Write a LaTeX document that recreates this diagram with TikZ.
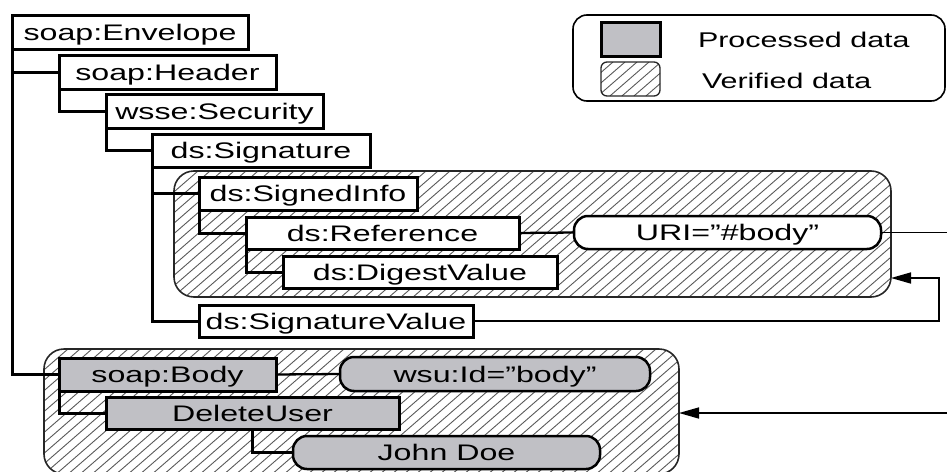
\documentclass[tikz,border=0pt]{standalone}
\usepackage{fontspec}
\setmainfont{Liberation Sans}[FakeStretch=1.43]
\usetikzlibrary{arrows.meta}
\definecolor{procgray}{RGB}{192,192,197}
\newcommand{\hatchfill}[4]{%
  \pgfmathsetmacro{\hh}{#4-#3}%
  \pgfmathtruncatemacro{\nn}{(#2-#1+1.15*\hh)/12+1}%
  \foreach \k in {0,...,\nn}{%
    \pgfmathsetmacro{\xa}{#1-1.15*\hh+12*\k}%
    \draw[hatchline] (\xa,#4) -- ++(1.15*\hh,-\hh);%
  }%
}
\begin{document}
\begin{tikzpicture}[x=1pt,y=-1pt,
  every node/.style={inner sep=0pt, outer sep=0pt, font=\fontsize{22.5}{26}\selectfont, text height=16pt, text depth=0pt},
  box/.style={draw, line width=3pt, fill=white},
  pbox/.style={draw, line width=3pt, fill=procgray},
  pill/.style={draw, line width=2.5pt, rounded corners=14pt},
  tree/.style={line width=3pt},
  link/.style={line width=2.3pt},
  thinline/.style={line width=1.6pt},
  hatchline/.style={line width=0.9pt, black!65},
  regionborder/.style={line width=1.6pt, black!85, rounded corners=20pt},
  tipstyle/.style={-{Triangle[length=20pt,width=11pt]}}
]
\useasboundingbox (0,0) rectangle (947,471);

% regions (verified data)
\node[minimum width=717pt, minimum height=126pt] (r1) at (532.5,234) {};
\node[minimum width=635pt, minimum height=125pt] (r2) at (361.5,411.5) {};
\begin{scope}
  \clip[rounded corners=20pt] (r1.north west) rectangle (r1.south east);
  \hatchfill{174}{891}{171}{297}
\end{scope}
\begin{scope}
  \clip[rounded corners=20pt] (r2.north west) rectangle (r2.south east);
  \hatchfill{44}{679}{349}{474}
\end{scope}
\draw[regionborder] (r1.north west) rectangle (r1.south east);
\draw[regionborder] (r2.north west) rectangle (r2.south east);

% legend
\node[draw, line width=1.6pt, rounded corners=14pt, minimum width=372pt, minimum height=86pt] (legend) at (759,58) {};
\node[pbox, minimum width=59pt, minimum height=34pt] (legp) at (630.5,39) {};
\node[minimum width=59pt, minimum height=34pt] (legv) at (630.5,79) {};
\begin{scope}
  \clip[rounded corners=6pt] (legv.north west) rectangle (legv.south east);
  \hatchfill{601}{660}{62}{96}
\end{scope}
\draw[line width=1.3pt, black!85, rounded corners=6pt] (legv.north west) rectangle (legv.south east);
\node[anchor=west, font=\fontsize{21.3}{25}\selectfont] (legpt) at (698,39) {Processed data};
\node[anchor=west, font=\fontsize{21.3}{25}\selectfont] (legvt) at (702,80) {Verified data};

% tree nodes
\node[box, minimum width=236pt, minimum height=34pt] (env) at (130,32) {soap:Envelope};
\node[box, minimum width=217pt, minimum height=34pt] (header) at (167.5,72) {soap:Header};
\node[box, minimum width=217pt, minimum height=34pt] (security) at (214.5,111) {wsse:Security};
\node[box, minimum width=218pt, minimum height=33pt] (signature) at (261,150.5) {ds:Signature};
\node[box, minimum width=218pt, minimum height=33pt] (signedinfo) at (308,193.5) {ds:SignedInfo};
\node[box, minimum width=273pt, minimum height=32pt] (reference) at (382.5,233) {ds:Reference};
\node[box, minimum width=274pt, minimum height=32pt] (digest) at (420,272) {ds:DigestValue};
\node[box, minimum width=274pt, minimum height=32pt] (sigvalue) at (336,321) {ds:SignatureValue};
\node[pill, fill=white, minimum width=307pt, minimum height=33pt] (uri) at (727.5,232.5) {URI=”\#body”};
\node[pbox, minimum width=217pt, minimum height=33pt] (body) at (167.5,374.5) {soap:Body};
\node[pill, fill=procgray, minimum width=310pt, minimum height=34pt] (wsu) at (495,374) {wsu:Id=”body”};
\node[pbox, minimum width=293pt, minimum height=32pt] (deluser) at (252.5,413) {DeleteUser};
\node[pill, fill=procgray, minimum width=307pt, minimum height=33pt] (john) at (446.5,452.5) {John Doe};

% tree connectors
\draw[tree] (env.south west) |- (header.west);
\draw[tree] (env.south west) |- (body.west);
\draw[tree] (header.south west) |- (security.west);
\draw[tree] (security.south west) |- (signature.west);
\draw[tree] (signature.south west) |- (signedinfo.west);
\draw[tree] (signature.south west) |- (sigvalue.west);
\draw[tree] (signedinfo.south west) |- (reference.west);
\draw[tree] (reference.south west) |- (digest.west);
\draw[tree] (body.south west) |- (deluser.west);
\draw[tree] (deluser.south) |- (john.west);
\draw[link] (reference.east) -- (uri.west);
\draw[link] (body.east) -- (wsu.west);

% reference links
\coordinate (uriout) at (947,232.5);
\coordinate (turn) at (939,278);
\coordinate (bodyin) at (947,413);
\draw[thinline] (uri.east) -- (uriout);
\draw[thinline, tipstyle] (sigvalue.east) -| (turn) -- (turn -| r1.east);
\draw[thinline, tipstyle] (bodyin) -- (bodyin -| r2.east);
\end{tikzpicture}
\end{document}
